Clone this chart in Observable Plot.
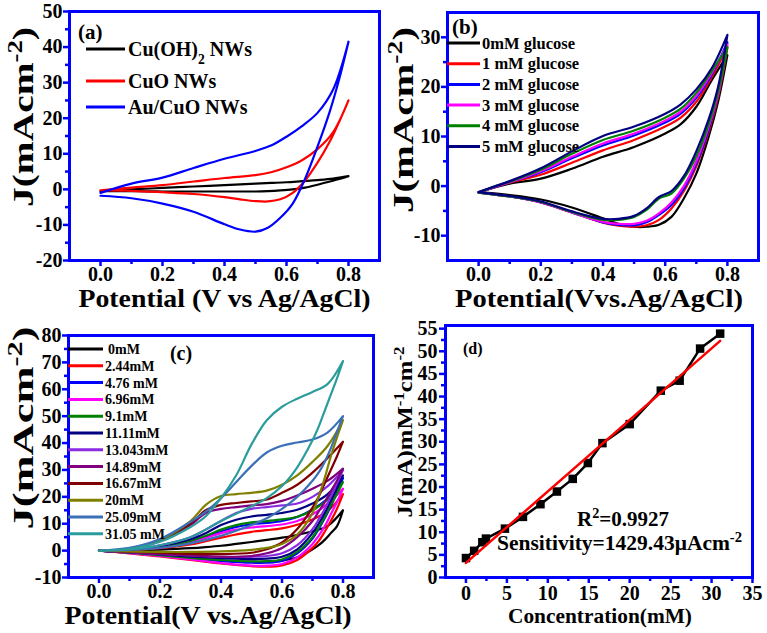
<!DOCTYPE html>
<html><head><meta charset="utf-8">
<script src="https://cdn.jsdelivr.net/npm/d3@7"></script>
<script src="https://cdn.jsdelivr.net/npm/@observablehq/plot@0.6"></script>
<style>
body{margin:0;background:#fff;}
#wrap{position:relative;width:767px;height:633px;overflow:hidden;background:#fff;}
#wrap svg{position:absolute;overflow:visible;}
</style></head><body><div id="wrap"></div>
<script>
// ---------- Panel (a) data ----------
const aNames = ["Cu(OH)2 NWs", "CuO NWs", "Au/CuO NWs"];
const aColors = ["#000000", "#ff0000", "#0000ff"];
const aPotFwd = [0, 0.1, 0.2, 0.3, 0.4, 0.5, 0.55, 0.6, 0.65, 0.7, 0.75, 0.8];
const aPotRev = [0.8, 0.77, 0.74, 0.7, 0.66, 0.62, 0.58, 0.54, 0.5, 0.45, 0.4, 0.3, 0.2, 0.1, 0];
const aFwd = [
  [-0.5, 0, 0.4, 0.8, 1.2, 1.6, 1.8, 2.0, 2.3, 2.6, 3.0, 3.7],
  [-0.3, 0.5, 1.2, 2.2, 3.2, 4.0, 4.8, 6.2, 8.2, 11.3, 16, 25],
  [-1, 1.6, 3.3, 6, 8.6, 10.8, 12.3, 14.8, 17.8, 21.5, 28, 41.5]
];
const aRev = [
  [3.7, 2.9, 2.2, 1.3, 0.5, 0, -0.3, -0.5, -0.6, -0.6, -0.6, -0.6, -0.6, -0.5, -0.5],
  [25, 19, 13.5, 7.5, 2.5, -1, -2.8, -3.4, -3.3, -2.8, -2.2, -1.3, -0.8, -0.4, -0.3],
  [41.5, 31, 22, 12, 3, -4, -8, -10.8, -11.9, -11.3, -9.8, -6.3, -4, -2.5, -1.8]
];

// ---------- Panel (b) data ----------
const bNames = ["0mM glucose", "1 mM glucose", "2 mM glucose", "3 mM glucose", "4 mM glucose", "5 mM glucose"];
const bColors = ["#000000", "#ff0000", "#0000ff", "#ff00ff", "#008000", "#000080"];
const bPotFwd = [0, 0.05, 0.1, 0.2, 0.3, 0.4, 0.5, 0.6, 0.65, 0.7, 0.75, 0.8];
const bPotRev = [0.8, 0.77, 0.74, 0.7, 0.66, 0.62, 0.58, 0.54, 0.5, 0.45, 0.4, 0.3, 0.2, 0.1, 0];
const bFwd = [
  [-1.2, -0.3, 0.5, 1.5, 3.5, 5.9, 7.9, 10.6, 12.5, 16, 21.4, 26.4],
  [-1.3, -0.2, 0.7, 2.3, 4.7, 7.2, 9.3, 12, 13.8, 17, 22, 28],
  [-1.3, -0.2, 0.8, 2.8, 5.6, 8.2, 10.2, 12.8, 14.6, 17.8, 22.5, 29],
  [-1.3, -0.2, 0.8, 3.0, 5.9, 8.6, 10.6, 13.2, 15, 18.2, 22.8, 28.5],
  [-1.3, -0.1, 0.9, 3.3, 6.5, 9.3, 11.2, 13.8, 15.6, 18.8, 23.2, 28],
  [-1.2, -0.1, 1.0, 3.6, 7.0, 10.1, 12, 14.6, 16.5, 19.5, 23.8, 30.5]
];
const bRev = [
  [26.4, 17, 10, 2.5, -2.5, -6.2, -7.8, -8.2, -8.2, -7.6, -6.5, -4.3, -2.7, -1.8, -1.2],
  [28, 18, 11, 4, -1, -4.5, -6.8, -7.9, -8.2, -8, -7.4, -5.3, -3.3, -2.1, -1.3],
  [29, 18.5, 11.5, 4.5, -0.5, -3.8, -5.8, -7.3, -7.9, -7.8, -7.3, -5.3, -3.3, -2.1, -1.3],
  [28.5, 18.5, 12, 5, 0, -3.3, -5.5, -7, -7.6, -7.6, -7.2, -5.3, -3.3, -2.1, -1.3],
  [28, 19, 12.5, 6, 1.5, -1.5, -2.5, -4.8, -6.2, -6.8, -6.8, -5.2, -3.2, -2.1, -1.3],
  [30.5, 20, 13.5, 7, 2, -1, -2.2, -4.5, -6, -6.6, -6.6, -5.1, -3.1, -2, -1.2]
];

// ---------- Panel (c) data ----------
const cNames = ["0mM", "2.44mM", "4.76 mM", "6.96mM", "9.1mM", "11.11mM", "13.043mM", "14.89mM", "16.67mM", "20mM", "25.09mM", "31.05 mM"];
const cColors = ["#000000", "#ff0000", "#0000ff", "#ff00ff", "#008000", "#000080", "#8a2be2", "#800080", "#800000", "#808000", "#3b6fb6", "#2b9c9c"];
const cPotFwd = [0, 0.1, 0.2, 0.3, 0.35, 0.4, 0.45, 0.5, 0.55, 0.6, 0.65, 0.7, 0.75, 0.8];
const cPotRev = [0.8, 0.78, 0.76, 0.74, 0.72, 0.7, 0.65, 0.6, 0.55, 0.5, 0.4, 0.3, 0.2, 0.1, 0];
const cFwd = [
  [0, 0.1, 0.4, 0.9, 1.3, 1.8, 2.5, 3.2, 4, 4.8, 5.8, 7.2, 9.2, 15],
  [0, 0.2, 0.9, 2.3, 3.5, 4.8, 6, 7, 7.6, 8.3, 9.6, 11.6, 14.8, 21],
  [0, 0.3, 1.3, 3.3, 5.2, 7.2, 8.8, 9.8, 10.3, 11, 12.5, 15.3, 19.5, 27],
  [0, 0.3, 1.2, 3, 4.7, 6.5, 7.8, 8.6, 9.1, 9.7, 11, 13.5, 17.5, 23],
  [0, 0.3, 1.4, 3.6, 5.5, 7.8, 9.5, 10.5, 11, 11.6, 12.6, 15, 19, 25.5],
  [0, 0.4, 1.7, 4.2, 6.5, 9.5, 11.5, 12.7, 13.3, 14, 15.2, 17.5, 21, 28],
  [0, 0.5, 2, 5, 7.8, 11, 14, 15.5, 16.2, 16.8, 17.5, 20, 24, 30],
  [0, 0.7, 3.6, 9.5, 14, 15.5, 16.2, 16.8, 17.3, 18.5, 20.5, 23, 26, 30.5],
  [0, 0.7, 3.8, 10, 15, 17, 17.7, 18.3, 19, 21.5, 24.5, 29, 34.5, 40.5],
  [0, 0.8, 4, 11, 17, 20.3, 21, 21.5, 22.3, 24.5, 28, 33, 39, 48.5],
  [0, 1, 4.3, 10.7, 14.5, 19.5, 25.5, 31.5, 36.5, 39, 40.2, 41.3, 44, 50],
  [0, 0.7, 3.3, 8.8, 12.8, 19.5, 28, 39.5, 48.5, 53.5, 56.5, 59, 62, 70.5]
];
const cRev = [
  [15, 9, 6.5, 4, 2, 0.5, -2.5, -3.7, -4, -4.2, -3.8, -2.6, -1.6, -0.8, 0],
  [21, 15.5, 11, 7, 3.5, 1, -3.5, -5.5, -6, -5.8, -4.8, -3.5, -2.2, -1, 0],
  [27, 21.5, 16.5, 12, 8, 4.5, -1, -3.8, -4.5, -4.5, -3.8, -2.8, -1.8, -0.8, 0],
  [23, 18, 13.5, 9, 5.5, 2.5, -2.5, -5, -5.6, -5.6, -4.6, -3.3, -2, -0.9, 0],
  [25.5, 21, 17, 12.5, 8.5, 5, -0.5, -3.3, -4, -4, -3.5, -2.7, -1.7, -0.8, 0],
  [28, 23, 18.5, 14, 10, 6.5, 0.5, -2.3, -3, -3.2, -2.8, -2.2, -1.4, -0.7, 0],
  [30, 25, 20, 15.5, 11.5, 8, 2, -1, -2, -2.3, -2.3, -1.8, -1.2, -0.6, 0],
  [30.5, 26, 22, 18, 14.5, 11, 5, 1, -1, -2, -2.3, -1.8, -1.2, -0.6, 0],
  [40.5, 35, 30, 25, 20, 16, 8, 3, 0.5, -0.8, -1.3, -1.2, -0.8, -0.4, 0],
  [48.5, 42, 35, 27, 20, 14, 6, 2.5, 1, 0.3, -0.3, -0.5, -0.5, -0.3, 0],
  [50, 44, 38, 33, 29, 26, 20, 15.5, 12, 9.5, 5.5, 2.7, 1, 0.3, 0],
  [70.5, 64, 58, 52, 46, 41, 31, 24, 19.5, 16.5, 11, 5, 2, 0.5, 0]
];

// ---------- Panel (d) data ----------
const dConc = [0, 1, 2, 2.44, 4.76, 6.96, 9.1, 11.11, 13.04, 14.89, 16.67, 20, 23.8, 26.1, 28.6, 31.05];
const dJ = [4.3, 5.9, 7.8, 8.6, 10.8, 13.4, 16.2, 19.0, 21.8, 25.3, 29.7, 33.9, 41.3, 43.5, 50.6, 53.9];

// ---------- tick values ----------
const potTicks = [0, 0.2, 0.4, 0.6, 0.8];
const potMinor = [0.1, 0.3, 0.5, 0.7];
const aYTicks = [-20, -10, 0, 10, 20, 30, 40, 50];
const aYMinor = [-15, -5, 5, 15, 25, 35, 45];
const bYTicks = [-10, 0, 10, 20, 30];
const bYMinor = [-5, 5, 15, 25];
const cYTicks = [-10, 0, 10, 20, 30, 40, 50, 60, 70, 80];
const cYMinor = [-5, 5, 15, 25, 35, 45, 55, 65, 75];
const dXTicks = [0, 5, 10, 15, 20, 25, 30, 35];
const dXMinor = [2.5, 7.5, 12.5, 17.5, 22.5, 27.5, 32.5];
const dYTicks = [0, 5, 10, 15, 20, 25, 30, 35, 40, 45, 50, 55];
const dYMinor = [2.5, 7.5, 12.5, 17.5, 22.5, 27.5, 32.5, 37.5, 42.5, 47.5, 52.5];

// ---------- helpers ----------
const BLUE = "#0000ff";
const FONT = "'Liberation Serif', 'Times New Roman', serif";
const wrap = document.getElementById("wrap");

function loopRows(xf, yf, xr, yr) {
  return [...xf.map((x, i) => ({x, y: yf[i]})), ...xr.map((x, i) => ({x, y: yr[i]}))];
}

function axes(o) {
  return [
    Plot.axisX(o.xTicks, {tickSize: 6, tickPadding: o.xPad ?? 0, stroke: BLUE, strokeWidth: 2.5, fill: "black",
      fontSize: o.tickFont, tickFormat: o.xFmt, label: null}),
    Plot.axisX(o.xMinor, {tickSize: 4, stroke: BLUE, strokeWidth: 2.5, tickFormat: () => "", label: null}),
    Plot.axisY(o.yTicks, {tickSize: 6, tickPadding: o.yPad ?? 1, stroke: BLUE, strokeWidth: 2.5, fill: "black",
      fontSize: o.tickFont, tickFormat: d => String(d), label: null}),
    Plot.axisY(o.yMinor, {tickSize: 4, stroke: BLUE, strokeWidth: 2.5, tickFormat: () => "", label: null}),
    Plot.frame({stroke: BLUE, strokeWidth: 3})
  ];
}

function makePlot(o, marks) {
  const svg = Plot.plot({
    width: o.w, height: o.h,
    marginLeft: o.ml, marginRight: o.mr, marginTop: o.mt, marginBottom: o.mb,
    x: {domain: o.xd, label: null},
    y: {domain: o.yd, label: null},
    style: {fontFamily: FONT, fontWeight: "bold", color: "#000", background: "transparent", overflow: "visible"},
    marks: [...marks, ...axes(o)]
  });
  svg.style.left = o.left + "px";
  svg.style.top = o.top + "px";
  wrap.appendChild(svg);
  return svg;
}

function txt(svg, x, y, parts, {size = 20, anchor = "start", rotate = 0, length = null} = {}) {
  const t = d3.select(svg).append("text")
    .attr("x", x).attr("y", y)
    .attr("font-family", FONT).attr("font-weight", "bold")
    .attr("font-size", size).attr("text-anchor", anchor).attr("fill", "#000");
  if (rotate) t.attr("transform", `rotate(${rotate},${x},${y})`);
  for (const p of parts) {
    if (typeof p === "string") t.append("tspan").text(p);
    else t.append("tspan").attr("baseline-shift", p[1] === "sup" ? "super" : "sub").attr("font-size", "68%").text(p[0]);
  }
  if (length) t.attr("textLength", length).attr("lengthAdjust", "spacingAndGlyphs");
  return t;
}

function swatch(svg, x1, x2, y, color) {
  d3.select(svg).append("line").attr("x1", x1).attr("x2", x2).attr("y1", y).attr("y2", y)
    .attr("stroke", color).attr("stroke-width", 3);
}

const fmt1 = d3.format(".1f");

// ---------- Panel (a) ----------
{
  const o = {left: 0, top: 0, w: 383, h: 316, ml: 69, mr: 4, mt: 11, mb: 56,
    xd: [-0.1, 0.9], yd: [-20, 50], xTicks: potTicks, xMinor: potMinor, yTicks: aYTicks, yMinor: aYMinor,
    xFmt: fmt1, tickFont: 20};
  const marks = aNames.map((n, i) => Plot.line(loopRows(aPotFwd, aFwd[i], aPotRev, aRev[i]),
    {x: "x", y: "y", stroke: aColors[i], strokeWidth: 2.2, curve: "catmull-rom"}));
  const svg = makePlot(o, marks);
  txt(svg, 224.5, 307, ["Potential (V vs Ag/AgCl)"], {size: 25, anchor: "middle", length: 292});
  txt(svg, 33, 117, ["J(mAcm", ["-2", "sup"], ")"], {size: 30, anchor: "middle", rotate: -90, length: 180});
  txt(svg, 78, 39, ["(a)"], {size: 21});
  [49, 81, 107].forEach((y, i) => swatch(svg, 86, 125, y, aColors[i]));
  txt(svg, 128, 56, ["Cu(OH)", ["2", "sub"], " NWs"], {size: 20});
  txt(svg, 128, 88, ["CuO NWs"], {size: 20});
  txt(svg, 128, 114, ["Au/CuO NWs"], {size: 20});
}

// ---------- Panel (b) ----------
{
  const L = 383;
  const o = {left: L, top: 0, w: 384, h: 316, ml: 64, mr: 9, mt: 12, mb: 56,
    xd: [-0.1, 0.9], yd: [-15, 35], xTicks: potTicks, xMinor: potMinor, yTicks: bYTicks, yMinor: bYMinor,
    xFmt: fmt1, tickFont: 20};
  const marks = bNames.map((n, i) => Plot.line(loopRows(bPotFwd, bFwd[i], bPotRev, bRev[i]),
    {x: "x", y: "y", stroke: bColors[i], strokeWidth: 2.2, curve: "catmull-rom"}));
  const svg = makePlot(o, marks);
  txt(svg, 599 - L, 307, ["Potential(Vvs.Ag/AgCl)"], {size: 25, anchor: "middle", length: 288});
  txt(svg, 413 - L, 120, ["J(mAcm", ["-2", "sup"], ")"], {size: 30, anchor: "middle", rotate: -90, length: 186});
  txt(svg, 452 - L, 34, ["(b)"], {size: 21});
  bNames.forEach((n, i) => {
    const y = 43 + i * 20.7;
    swatch(svg, 447 - L, 480 - L, y, bColors[i]);
    txt(svg, 482 - L, y + 5.5, [n], {size: 16.5});
  });
}

// ---------- Panel (c) ----------
{
  const T = 316;
  const o = {left: 0, top: T, w: 383, h: 317, ml: 68, mr: 10, mt: 19, mb: 56,
    xd: [-0.1, 0.9], yd: [-10, 80], xTicks: potTicks, xMinor: potMinor, yTicks: cYTicks, yMinor: cYMinor,
    xFmt: fmt1, tickFont: 20, xPad: 0};
  const marks = cNames.map((n, i) => Plot.line(loopRows(cPotFwd, cFwd[i], cPotRev, cRev[i]),
    {x: "x", y: "y", stroke: cColors[i], strokeWidth: 2.2, curve: "catmull-rom"}));
  const svg = makePlot(o, marks);
  txt(svg, 208, 624 - T, ["Potential(V vs.Ag/AgCl)"], {size: 25, anchor: "middle", length: 287});
  txt(svg, 33, 428 - T, ["J(mAcm", ["-2", "sup"], ")"], {size: 30, anchor: "middle", rotate: -90, length: 203});
  txt(svg, 181, 360 - T, ["(c)"], {size: 20, anchor: "middle"});
  cNames.forEach((n, i) => {
    const y = 349 + i * 16.8 - T;
    swatch(svg, 68, 103, y, cColors[i]);
    txt(svg, i === 0 ? 108 : 105, y + 5, [n], {size: 14});
  });
}

// ---------- Panel (d) ----------
{
  const L = 383, T = 316;
  const o = {left: L, top: T, w: 384, h: 317, ml: 62, mr: 15, mt: 9, mb: 56,
    xd: [-2.5, 35], yd: [0, 55.7], xTicks: dXTicks, xMinor: dXMinor, yTicks: dYTicks, yMinor: dYMinor,
    xFmt: d => String(d), tickFont: 20, yPad: 2, xPad: 2};
  const pts = dConc.map((c, i) => ({c, j: dJ[i]}));
  const marks = [
    Plot.line(pts, {x: "c", y: "j", stroke: "#000", strokeWidth: 2.5}),
    Plot.dot(pts, {x: "c", y: "j", symbol: "square", fill: "#000", r: 4.8}),
    Plot.linearRegressionY(pts, {x: "c", y: "j", stroke: "#ff0000", strokeWidth: 2.5, ci: 0})
  ];
  const svg = makePlot(o, marks);
  txt(svg, 600 - L, 623 - T, ["Concentration(mM)"], {size: 22, anchor: "middle", length: 184});
  txt(svg, 412 - L, 432 - T, ["J(mA)mM", ["-1", "sup"], "cm", ["-2", "sup"]], {size: 22, anchor: "middle", rotate: -90, length: 171});
  txt(svg, 463 - L, 354 - T, ["(d)"], {size: 16});
  txt(svg, 577 - L, 526 - T, ["R", ["2", "sup"], "=0.9927"], {size: 21});
  txt(svg, 497 - L, 550 - T, ["Sensitivity=1429.43\u03bcAcm", ["-2", "sup"]], {size: 21.5});
}
</script></body></html>
